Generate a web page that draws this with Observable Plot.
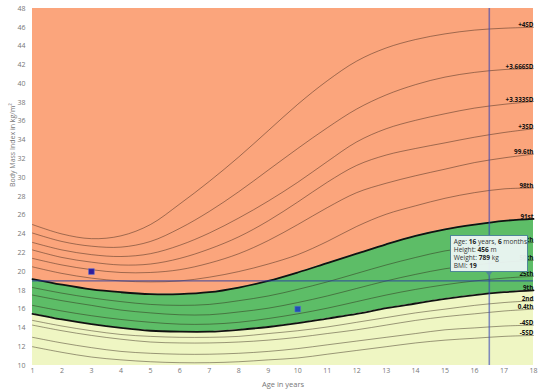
<!DOCTYPE html>
<html><head><meta charset="utf-8">
<script src="https://cdn.jsdelivr.net/npm/d3@7"></script>
<script src="https://cdn.jsdelivr.net/npm/@observablehq/plot@0.6"></script>
<style>
body{margin:0;background:#fff;font-family:"Open Sans",sans-serif;}
#wrap{position:relative;width:540px;height:391px;}
.tip{position:absolute;box-sizing:border-box;background:rgba(238,246,245,0.94);border:1px solid #4f8798;font-family:"Open Sans",sans-serif;font-size:6.6px;line-height:8px;color:#333;padding:2px 3px;white-space:nowrap;overflow:visible;}
.tip div{height:8px;}
.tip b{font-weight:700;color:#222;}
.tip .arr{position:absolute;left:50%;bottom:-5px;margin-left:-4px;width:0;height:0;border-left:4px solid transparent;border-right:4px solid transparent;border-top:5px solid #4f8798;}
</style></head><body><div id="wrap"></div>
<script>
// Ages (x)
const ages = [1,2,3,4,5,6,7,8,9,10,11,12,13,14,15,16,17,18];
// Curve series (BMI values)
const sd4    = [25.0,24.0,23.5,23.8,25.0,27.2,29.6,32.2,35.0,37.8,40.3,42.4,43.8,44.7,45.3,45.7,45.9,46.0];
const sd3_666= [24.1,23.2,22.7,22.6,23.2,24.6,26.4,28.5,30.8,33.1,35.3,37.3,38.8,39.9,40.7,41.2,41.5,41.6];
const sd3_333= [23.1,22.3,21.8,21.6,21.9,22.8,24.1,25.7,27.5,29.5,31.7,33.8,35.2,36.1,36.8,37.4,37.8,38.1];
const sd3    = [22.3,21.5,21.0,20.7,20.8,21.4,22.4,23.7,25.4,27.4,29.5,31.3,32.4,33.1,33.7,34.3,34.8,35.2];
const p99_6  = [21.4,20.7,20.2,19.9,19.9,20.2,20.9,21.9,23.3,25.0,26.8,28.4,29.4,30.2,30.9,31.6,32.1,32.5];
const p98    = [20.5,19.8,19.3,19.0,18.9,19.0,19.4,20.0,20.8,21.8,23.2,24.8,26.1,27.0,27.8,28.4,28.8,28.9];
const p91    = [19.2,18.6,18.1,17.8,17.6,17.6,17.8,18.3,19.0,19.9,20.9,21.9,22.9,23.8,24.5,25.0,25.4,25.6];
const p75    = [18.3,17.7,17.2,16.8,16.5,16.4,16.5,16.9,17.4,18.1,18.9,19.8,20.7,21.5,22.2,22.6,22.9,23.1];
const p50    = [17.5,16.9,16.4,15.9,15.6,15.4,15.4,15.7,16.1,16.7,17.4,18.2,19.0,19.7,20.3,20.7,21.0,21.2];
const p25    = [16.4,15.8,15.3,14.9,14.6,14.4,14.4,14.6,15.0,15.5,16.1,16.8,17.5,18.1,18.6,19.0,19.3,19.5];
const p9     = [15.5,14.9,14.4,14.0,13.7,13.6,13.6,13.8,14.1,14.5,15.0,15.5,16.1,16.6,17.1,17.5,17.8,18.0];
const p2     = [14.8,14.2,13.7,13.3,13.1,13.0,13.0,13.1,13.4,13.7,14.1,14.6,15.1,15.6,16.0,16.4,16.7,16.9];
const p0_4   = [14.3,13.7,13.2,12.8,12.5,12.4,12.4,12.5,12.7,13.0,13.4,13.8,14.3,14.8,15.2,15.5,15.8,16.0];
const sdm4   = [13.0,12.4,11.9,11.5,11.3,11.2,11.2,11.3,11.5,11.8,12.2,12.6,13.0,13.4,13.8,14.0,14.2,14.3];
const sdm5   = [12.0,11.4,10.9,10.6,10.4,10.3,10.3,10.4,10.6,10.8,11.2,11.6,12.0,12.4,12.7,12.9,13.1,13.2];
const curveLabels = ["+4SD","+3.666SD","+3.333SD","+3SD","99.6th","98th","91st","75th","50th","25th","9th","2nd","0.4th","-4SD","-5SD"];
const curveValues = [sd4,sd3_666,sd3_333,sd3,p99_6,p98,p91,p75,p50,p25,p9,p2,p0_4,sdm4,sdm5];
const thickCurves = ["91st","9th"];
// Patient points
const pointAges = [3,10];
const pointBmis = [20,16];
const pointColors = ["#2e1c9c","#1f4fb4"];
// Cursor
const cursorAge = 16.5;
const cursorBmi = 19;
const tipLines = [["Age: ","16"," years, ","6"," months"],["Height: ","456"," m"],["Weight: ","789"," kg"],["BMI: ","19"]];
// Axis ticks
const xTicks = d3.range(1,19);
const yTicks = d3.range(10,49,2);
const yMin = 10, yMax = 48;

const lines = [];
curveLabels.forEach((name,i)=>ages.forEach((a,j)=>lines.push({name,age:a,bmi:curveValues[i][j]})));
const bands = ages.map((a,j)=>({age:a,top:yMax,p91:p91[j],p9:p9[j],bottom:yMin}));
const ends = curveLabels.map((name,i)=>({name,age:ages[ages.length-1],bmi:curveValues[i][ages.length-1]}));
const pts = pointAges.map((a,i)=>({age:a,bmi:pointBmis[i],c:pointColors[i]}));
const curve = "catmull-rom";

const plot = Plot.plot({
  width:540, height:391,
  marginLeft:32, marginRight:7, marginTop:8, marginBottom:26,
  style:{fontFamily:"'Open Sans',sans-serif",fontSize:"7px",color:"#777",background:"#fff"},
  x:{domain:[1,18],ticks:xTicks,tickSize:0,tickPadding:3,label:null},
  y:{domain:[yMin,yMax],ticks:yTicks,tickSize:0,tickPadding:7,label:null},
  marks:[
    Plot.areaY(bands,{x:"age",y1:"p91",y2:"top",fill:"#fba57c",curve}),
    Plot.areaY(bands,{x:"age",y1:"p9",y2:"p91",fill:"#5dbd67",curve}),
    Plot.areaY(bands,{x:"age",y1:"bottom",y2:"p9",fill:"#eff6c3",curve}),
    Plot.line(lines.filter(d=>!thickCurves.includes(d.name)),{x:"age",y:"bmi",z:"name",stroke:"#2a1a10",strokeOpacity:0.55,strokeWidth:0.8,curve}),
    Plot.line(lines.filter(d=>thickCurves.includes(d.name)),{x:"age",y:"bmi",z:"name",stroke:"#111",strokeWidth:1.8,curve}),
    Plot.text(ends,{x:"age",y:"bmi",text:"name",textAnchor:"end",dy:-2,fontSize:6.3,fontWeight:"bold",fill:"#111"}),
    Plot.ruleX([cursorAge],{stroke:"#3442b8",strokeOpacity:0.6,strokeWidth:1.6}),
    Plot.ruleY([cursorBmi],{stroke:"#2c3fa0",strokeOpacity:0.75,strokeWidth:1.2}),
    Plot.dot(pts,{x:"age",y:"bmi",symbol:"square",r:3.2,fill:"c",stroke:"#5a6fd0",strokeWidth:0.6}),
    Plot.text(["Body Mass Index in kg/m²"],{frameAnchor:"left",rotate:-90,dx:-20,fontSize:7,fill:"#777"}),
    Plot.text(["Age in years"],{frameAnchor:"bottom",lineAnchor:"middle",dy:19,fontSize:7.5,fill:"#777"})
  ]
});
const wrap = document.getElementById("wrap");
wrap.appendChild(plot);

// Tooltip anchored at the cursor through the plot's scales
const sx = plot.scale("x"), sy = plot.scale("y");
const px = sx.apply(cursorAge), py = sy.apply(cursorBmi);
const tip = document.createElement("div");
tip.className = "tip";
tip.innerHTML = tipLines.map(parts=>"<div>"+parts.map((p,k)=>k%2? "<b>"+p+"</b>" : p).join("")+"</div>").join("") + '<span class="arr"></span>';
wrap.appendChild(tip);
const w = 78, h = 37;
tip.style.width = w+"px"; tip.style.height = h+"px";
tip.style.left = (px - w/2)+"px";
tip.style.top = (py - 8 - h)+"px";
</script>
</body></html>
